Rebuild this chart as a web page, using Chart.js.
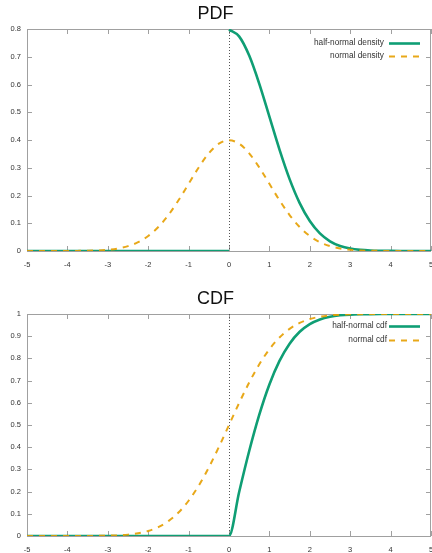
<!DOCTYPE html>
<html>
<head>
<meta charset="utf-8">
<script src="https://cdn.jsdelivr.net/npm/chart.js@4.4.1/dist/chart.umd.min.js"></script>
<style>
  body { margin: 0; background: #fff; }
  canvas { display: block; }
</style>
</head>
<body>
<canvas id="pdfChart" width="432" height="285"></canvas>
<canvas id="cdfChart" width="432" height="268"></canvas>
<script>
// valores, x de -5 a 5 a cada 0.25
const xs = [-5, -4.75, -4.5, -4.25, -4, -3.75, -3.5, -3.25, -3, -2.75, -2.5, -2.25, -2, -1.75, -1.5, -1.25, -1, -0.75, -0.5, -0.25,
  0, 0.25, 0.5, 0.75, 1, 1.25, 1.5, 1.75, 2, 2.25, 2.5, 2.75, 3, 3.25, 3.5, 3.75, 4, 4.25, 4.5, 4.75, 5];

const halfNormalPdf = [0, 0, 0, 0, 0, 0, 0, 0, 0, 0, 0, 0, 0, 0, 0, 0, 0, 0, 0, 0,
  0.7979, 0.7734, 0.7041, 0.6023, 0.4839, 0.3653, 0.2590, 0.1726, 0.1080, 0.0634, 0.0350, 0.0182, 0.0089, 0.0041, 0.0017, 0.0007, 0.0003, 0.0001, 0, 0, 0];

const normalPdf = [0, 0, 0, 0, 0.0001, 0.0004, 0.0009, 0.0020, 0.0044, 0.0091, 0.0175, 0.0317, 0.0540, 0.0863, 0.1295, 0.1826, 0.2420, 0.3011, 0.3521, 0.3867,
  0.3989, 0.3867, 0.3521, 0.3011, 0.2420, 0.1826, 0.1295, 0.0863, 0.0540, 0.0317, 0.0175, 0.0091, 0.0044, 0.0020, 0.0009, 0.0004, 0.0001, 0, 0, 0, 0];

const halfNormalCdf = [0, 0, 0, 0, 0, 0, 0, 0, 0, 0, 0, 0, 0, 0, 0, 0, 0, 0, 0, 0,
  0, 0.1974, 0.3829, 0.5467, 0.6827, 0.7887, 0.8664, 0.9199, 0.9545, 0.9756, 0.9876, 0.9940, 0.9973, 0.9988, 0.9995, 0.9998, 0.9999, 1, 1, 1, 1];

const normalCdf = [0, 0, 0, 0, 0, 0.0001, 0.0002, 0.0006, 0.0013, 0.0030, 0.0062, 0.0122, 0.0228, 0.0401, 0.0668, 0.1056, 0.1587, 0.2266, 0.3085, 0.4013,
  0.5, 0.5987, 0.6915, 0.7734, 0.8413, 0.8944, 0.9332, 0.9599, 0.9772, 0.9878, 0.9938, 0.9970, 0.9987, 0.9994, 0.9998, 0.9999, 1, 1, 1, 1, 1];

const xTicks = [-5, -4, -3, -2, -1, 0, 1, 2, 3, 4, 5];
const pdfYTicks = [0, 0.1, 0.2, 0.3, 0.4, 0.5, 0.6, 0.7, 0.8];
const cdfYTicks = [0, 0.1, 0.2, 0.3, 0.4, 0.5, 0.6, 0.7, 0.8, 0.9, 1];

const VERDE = '#0f9e74';
const LARANJA = 'rgba(230,159,0,0.9)';
const FONTE = "'Liberation Sans', Arial, sans-serif";

function pontos(ys) {
  return xs.map((x, i) => ({ x: x, y: ys[i] }));
}

// densidade half-normal tem um salto em x=0, então quebra a linha ali
function pontosComSalto(ys) {
  const out = [];
  xs.forEach((x, i) => {
    if (x === 0) {
      out.push({ x: 0, y: 0 });
      out.push({ x: 0, y: null });
    }
    out.push({ x: x, y: ys[i] });
  });
  return out;
}

// moldura estilo gnuplot: borda, ticks para dentro e linha pontilhada em x=0
const molduraPlugin = {
  id: 'moldura',
  beforeDatasetsDraw(chart) {
    const { ctx, chartArea: a, scales } = chart;
    ctx.save();
    ctx.strokeStyle = '#a0a0a0';
    ctx.lineWidth = 1;
    ctx.strokeRect(a.left + 0.5, a.top + 0.5, a.right - a.left - 1, a.bottom - a.top);
    ctx.beginPath();
    scales.x.ticks.forEach(t => {
      const px = Math.round(scales.x.getPixelForValue(t.value)) + 0.5;
      ctx.moveTo(px, a.bottom); ctx.lineTo(px, a.bottom - 5);
      ctx.moveTo(px, a.top); ctx.lineTo(px, a.top + 5);
    });
    scales.y.ticks.forEach(t => {
      const py = Math.round(scales.y.getPixelForValue(t.value)) + 0.5;
      ctx.moveTo(a.left, py); ctx.lineTo(a.left + 5, py);
      ctx.moveTo(a.right, py); ctx.lineTo(a.right - 5, py);
    });
    ctx.stroke();
    // eixo zero
    const x0 = Math.round(scales.x.getPixelForValue(0)) + 0.5;
    ctx.strokeStyle = '#555';
    ctx.setLineDash([1, 2]);
    ctx.beginPath();
    ctx.moveTo(x0, a.top);
    ctx.lineTo(x0, a.bottom);
    ctx.stroke();
    ctx.restore();
  }
};

// legenda dentro do gráfico, texto à esquerda da amostra da linha
const legendaPlugin = {
  id: 'legendaGnuplot',
  afterDraw(chart, args, opts) {
    const { ctx, chartArea: a } = chart;
    ctx.save();
    ctx.font = '8.3px ' + FONTE;
    ctx.textAlign = 'right';
    ctx.textBaseline = 'middle';
    chart.data.datasets.forEach((ds, i) => {
      const y = a.top + opts.top + i * opts.gap;
      ctx.fillStyle = '#333';
      ctx.fillText(ds.label, opts.textRight, y);
      ctx.strokeStyle = ds.borderColor;
      ctx.lineWidth = ds.borderWidth;
      ctx.setLineDash(ds.borderDash || []);
      ctx.beginPath();
      ctx.moveTo(opts.lineStart, y + 0.5);
      ctx.lineTo(opts.lineStart + 31, y + 0.5);
      ctx.stroke();
    });
    ctx.restore();
  }
};

function montarGrafico(id, titulo, labels, dadosVerde, dadosLaranja, yTicks, yMax, alturaX, legenda) {
  return new Chart(document.getElementById(id), {
    type: 'line',
    data: {
      datasets: [
        {
          label: labels[0],
          data: dadosVerde,
          borderColor: VERDE,
          borderWidth: 2.6,
          pointRadius: 0,
          cubicInterpolationMode: 'monotone',
          spanGaps: false,
          order: 2
        },
        {
          label: labels[1],
          data: dadosLaranja,
          borderColor: LARANJA,
          borderWidth: 2,
          borderDash: [6, 6],
          pointRadius: 0,
          cubicInterpolationMode: 'monotone',
          order: 1
        }
      ]
    },
    options: {
      responsive: false,
      animation: false,
      devicePixelRatio: 1,
      layout: { padding: { left: 0, right: 1, top: 0, bottom: 0 } },
      plugins: {
        legend: { display: false },
        tooltip: { enabled: false },
        title: {
          display: true,
          text: titulo,
          color: '#111',
          font: { family: FONTE, size: 18, weight: 'normal' },
          padding: { top: 3, bottom: 4.4 }
        },
        legendaGnuplot: legenda
      },
      scales: {
        x: {
          type: 'linear',
          min: -5,
          max: 5,
          afterBuildTicks: s => { s.ticks = xTicks.map(v => ({ value: v })); },
          afterFit: s => { s.height = alturaX; s.paddingLeft = 0; s.paddingRight = 0; },
          grid: { display: false, drawTicks: false },
          border: { display: false },
          ticks: { color: '#333', font: { family: FONTE, size: 7.5 }, padding: 9, maxRotation: 0, autoSkip: false }
        },
        y: {
          min: 0,
          max: yMax,
          afterBuildTicks: s => { s.ticks = yTicks.map(v => ({ value: v })); },
          afterFit: s => { s.width = 27; },
          grid: { display: false, drawTicks: false },
          border: { display: false },
          ticks: { color: '#333', font: { family: FONTE, size: 7.5 }, padding: 6, autoSkip: false,
            callback: v => String(v) }
        }
      }
    },
    plugins: [molduraPlugin, legendaPlugin]
  });
}

montarGrafico('pdfChart', 'PDF', ['half-normal density', 'normal density'],
  pontosComSalto(halfNormalPdf), pontos(normalPdf), pdfYTicks, 0.8, 34,
  { top: 14, gap: 13, textRight: 384, lineStart: 389 });

montarGrafico('cdfChart', 'CDF', ['half-normal cdf', 'normal cdf'],
  pontos(halfNormalCdf), pontos(normalCdf), cdfYTicks, 1, 17,
  { top: 12, gap: 14, textRight: 387, lineStart: 389 });
</script>
</body>
</html>
